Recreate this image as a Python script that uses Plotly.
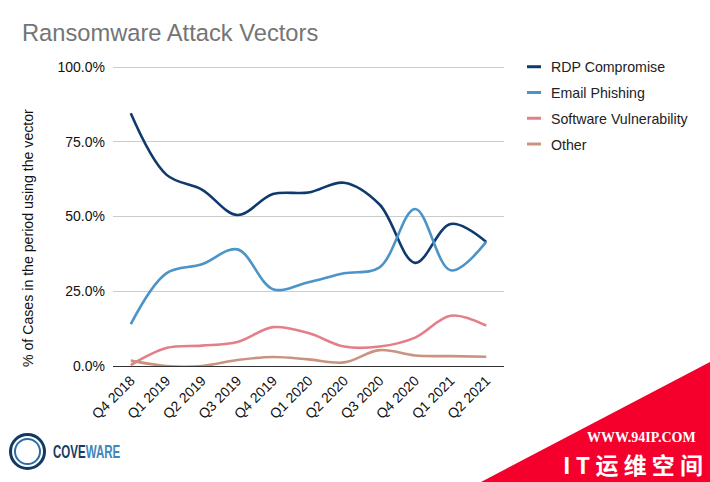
import plotly.graph_objects as go

quarters = ["Q4 2018", "Q1 2019", "Q2 2019", "Q3 2019", "Q4 2019", "Q1 2020",
            "Q2 2020", "Q3 2020", "Q4 2020", "Q1 2021", "Q2 2021"]
rdp = [84.5, 64, 59, 50.5, 57.5, 58, 61.3, 54, 34.5, 47.5, 41.5]
email = [14, 31, 34, 39, 25.7, 28, 31, 33, 52.5, 32, 41.5]
software = [0.3, 6, 6.8, 8, 13, 11, 6.5, 6.5, 9.5, 16.8, 13.5]
other = [1.8, 0, 0, 2, 3, 2.2, 1.2, 5.3, 3.5, 3.3, 3.1]
series_names = ["RDP Compromise", "Email Phishing", "Software Vulnerability", "Other"]
series_values = [rdp, email, software, other]
series_colors = ["#0f3a6e", "#4b94c8", "#e47f8a", "#c9937f"]
y_ticks = [0, 25, 50, 75, 100]
y_tick_labels = ["0.0%", "25.0%", "50.0%", "75.0%", "100.0%"]

W, H = 710, 482
L, R, T, B = 113, 504, 65, 366
FONT = "Liberation Sans, Arial, sans-serif"


def px(x):
    return (x - L) / (R - L)


def py(y):
    return (B - y) / (B - T)


fig = go.Figure()
for name, vals, col in zip(series_names, series_values, series_colors):
    fig.add_trace(go.Scatter(
        x=quarters, y=vals, name=name, mode="lines", legendgroup=name,
        line=dict(color=col, width=2.6, shape="spline", smoothing=1.0),
        cliponaxis=True,
    ))

shapes = [
    dict(type="path", xref="paper", yref="paper", layer="above", line_width=0,
         fillcolor="#f5002d",
         path=f"M{px(481)},{py(482)} L{px(710)},{py(362)} L{px(710)},{py(482)} Z"),
    dict(type="circle", xref="paper", yref="paper", line=dict(color="#12395f", width=3),
         x0=px(10.5), x1=px(44.5), y0=py(468.5), y1=py(434.5)),
    dict(type="circle", xref="paper", yref="paper", line=dict(color="#2a6ea6", width=2),
         x0=px(15), x1=px(40), y0=py(464), y1=py(439)),
]

annotations = [
    dict(text="Ransomware Attack Vectors", xref="paper", yref="paper", x=px(20), y=py(33),
         xanchor="left", yanchor="middle", showarrow=False,
         font=dict(family=FONT, size=23.7, color="#757575")),
    dict(text="% of Cases in the period using the vector", xref="paper", yref="paper",
         x=px(28), y=py(238), textangle=-90, xanchor="center", yanchor="middle", showarrow=False,
         font=dict(family=FONT, size=14.15, color="#111111")),
    dict(text="<b><span style='color:#173a63'>COVE</span><span style='color:#3f86bd'>WARE</span></b>",
         xref="paper", yref="paper", x=px(51), y=py(452), xanchor="left", yanchor="middle",
         showarrow=False, font=dict(family=FONT, size=18)),
    dict(text="<b>WWW.94IP.COM</b>", xref="paper", yref="paper", x=px(641), y=py(437),
         xanchor="center", yanchor="middle", showarrow=False,
         font=dict(family="Liberation Serif, DejaVu Serif", size=14, color="white")),
    dict(text="<b>I T 运 维 空 间</b>", xref="paper", yref="paper", x=px(633), y=py(464),
         xanchor="center", yanchor="middle", showarrow=False,
         font=dict(family="Noto Sans CJK SC", size=23, color="white")),
]

fig.update_layout(
    width=W, height=H, autosize=False,
    margin=dict(l=L, r=W - R, t=T, b=H - B, pad=0),
    paper_bgcolor="white", plot_bgcolor="white",
    font=dict(family=FONT, size=14, color="#111111"),
    showlegend=True,
    legend=dict(x=px(511), y=py(51), xanchor="left", yanchor="top",
                tracegroupgap=4.3, font=dict(size=14.2, color="#222222"),
                itemwidth=30, bgcolor="rgba(0,0,0,0)"),
    xaxis=dict(range=[-0.5, 10.5], tickangle=-45, showgrid=False, ticks="",
               showline=True, linecolor="#333333", linewidth=1.2,
               tickfont=dict(size=14, color="#111111")),
    yaxis=dict(range=[0, 100.67], tickvals=y_ticks, ticktext=y_tick_labels, showline=False,
               gridcolor="#cccccc", gridwidth=1, zeroline=False, ticks="",
               ticklabelstandoff=7, tickfont=dict(size=14, color="#111111")),
    shapes=shapes, annotations=annotations,
)

post = """
document.body.style.margin='0';
var gd=document.querySelector('.plotly-graph-div');
gd.querySelectorAll('.legendlines path').forEach(function(p){p.setAttribute('d','M16,0h14');p.style.strokeWidth='3px';});
gd.querySelectorAll('.annotation-text').forEach(function(t){
  if(t.textContent==='COVEWARE'){
    var b=t.getBBox();var x0=b.x;
    t.setAttribute('transform','translate('+x0+',0) scale(0.64,1) translate('+(-x0)+',0)');
  }
});
"""
fig.write_html("out.html", post_script=post, config={"displayModeBar": False})
